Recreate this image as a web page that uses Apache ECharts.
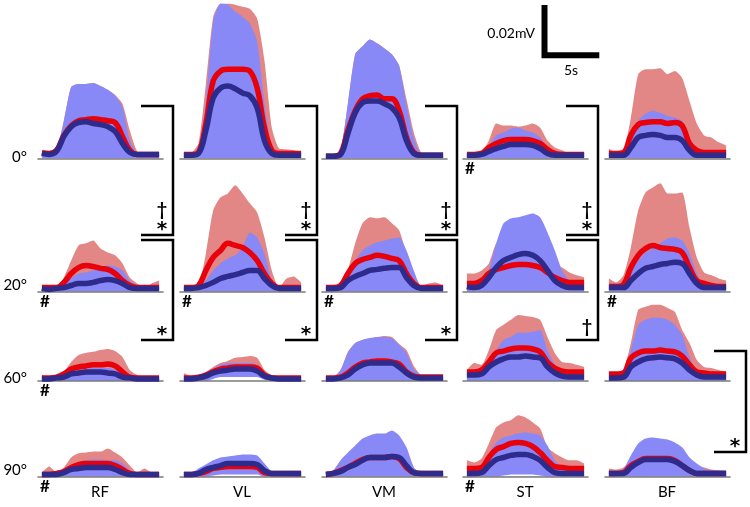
<!DOCTYPE html>
<html><head><meta charset="utf-8">
<script src="https://cdn.jsdelivr.net/npm/echarts@6/dist/echarts.min.js"></script>
<style>html,body{margin:0;padding:0;background:#fff}#c{width:750px;height:507px}</style>
</head><body><div id="c"></div>
<script>
// time samples (s) within each trial window
const T = [0,0.75,1.5,2.25,3,3.75,4.5,5.25,6,6.75,7.5,8.25,9,9.75,10.5,11.25,12];
const muscles = ['RF','VL','VM','ST','BF'];
const angles = ['0°','20°','60°','90°'];
// values in µV: redBand/blueBand = upper edge of shaded band, redMean/blueMean = mean envelope
// ---- 0°
const RF0_redBand  = [2.7,1.9,3.1,14.6,27.7,28.9,28.9,29.3,28.1,26.6,24.6,21.2,10.8,2.7,1.5,1.5,1.5];
const RF0_blueBand = [1.9,1.9,3.1,14.6,27.7,28.9,28.9,29.3,28.1,26.6,24.3,20,6.9,1.9,1.5,1.5,1.5];
const RF0_redMean  = [2.2,1.9,3.1,8.9,12.7,14.6,15,15.4,15,14.6,13.9,8.5,3.1,1.5,1.5,1.5,1.5];
const RF0_blueMean = [1.9,1.5,2.7,8.5,12.3,13.9,14.2,13.5,13.1,12.3,10.4,5.8,2.3,1.5,1.5,1.5,1.5];
const VL0_redBand  = [2.3,2.3,5.8,28.9,55,60,60,59.7,58.9,58.1,54.3,38,11.9,3.8,3.5,3.1,2.3];
const VL0_blueBand = [1.9,1.9,2.3,22.3,53.1,60,59.7,57,55,52.4,45.4,21.2,4.2,1.9,1.9,1.9,1.9];
const VL0_redMean  = [1.5,1.5,2.3,13.5,30,33.9,34.6,34.6,34.6,33.9,27.3,11.9,3.1,1.9,1.9,1.9,1.9];
const VL0_blueMean = [1.2,1.2,1.9,10.8,23.5,27.3,28.1,27,25.4,24.3,19.6,6.9,1.9,1.2,1.2,1.2,1.2];
const VM0_redBand  = [1.5,1.5,3.1,21.2,40.4,43.5,46.2,44.7,42.7,40.4,36,23,10,2.3,1.5,1.5,1.5];
const VM0_blueBand = [1.5,1.5,3.1,21.2,40.4,43.5,46.2,44.7,42.7,40.4,36,21,8,1.5,1.5,1.5,1.5];
const VM0_redMean  = [0.8,0.8,1.9,10.8,18.5,23.1,24.3,24.6,23.1,23.1,18.5,8.1,2.3,1.2,1.2,1.2,1.2];
const VM0_blueMean = [0.8,0.8,1.5,9.6,17.7,21.6,22.3,22.3,21.2,19.6,15.8,6.9,1.9,1.2,1.2,1.2,1.2];
const ST0_redBand  = [1.9,1.9,2.3,6.9,13.5,12.7,12.7,12.3,12.7,13.5,11.9,6.9,4.2,3.1,1.9,1.9,1.9];
const ST0_blueBand = [1.5,1.5,1.9,5,8.9,10,11.5,11.9,10.8,10,8.1,4.2,2.3,1.9,1.9,1.9,1.9];
const ST0_redMean  = [1.5,1.5,1.9,4.2,5.8,6.9,7.3,7.3,7.3,6.9,5.8,3.5,1.9,1.5,1.5,1.5,1.5];
const ST0_blueMean = [1.2,1.2,1.5,2.7,3.8,4.6,5.4,5.4,5.4,5,3.8,1.9,1.2,1.2,1.2,1.2,1.2];
const BF0_redBand  = [3.8,2.3,3.1,15.8,32.7,34.6,34.6,35,32.7,33.9,31.2,22.3,13.5,8.9,8.1,6.2,5];
const BF0_blueBand = [1.9,1.9,2.3,9.6,14.6,17.3,18.5,17.7,16.5,15.8,14.6,7.7,3.1,2.3,2.3,2.3,2.3];
const BF0_redMean  = [1.9,1.9,2.3,8.9,13.1,13.9,14.2,14.2,13.5,13.9,12.7,5.8,3.1,2.3,2.3,2.3,2.3];
const BF0_blueMean = [1.2,1.2,1.2,4.2,8.1,8.9,9.2,8.9,8.1,8.1,6.9,3.1,1.2,1.2,1.2,1.2,1.2];
// ---- 20°
const RF20_redBand  = [2.3,1.5,1.2,5.4,11.9,17.7,18.5,19.6,16.5,15,13.9,10.8,5.4,3.1,1.5,3.1,4.2];
const RF20_blueBand = [1.5,1.2,1.2,3.1,5,6.9,7.3,8.1,9.2,10,9.6,8.1,4.2,2.3,1.5,1.5,1.5];
const RF20_redMean  = [1.5,1.5,1.5,3.5,6.9,9.2,10,9.6,8.9,8.5,6.9,4.2,2.3,1.5,1.5,1.5,1.5];
const RF20_blueMean = [1.2,0.8,1.2,1.5,2.3,3.1,3.1,3.5,4.2,4.6,4.2,3.1,1.5,1.2,1.2,1.2,1.2];
const VL20_redBand  = [1.5,1.5,1.9,14.6,31.2,36.2,37.7,40.8,37.7,33.9,30.4,20.8,8.1,1.5,5,5.8,3.5];
const VL20_blueBand = [1.2,1.2,1.5,4.2,8.1,10.8,12.7,13.9,16.9,22.7,20.8,14.6,4.2,1.5,1.5,1.5,1.5];
const VL20_redMean  = [1.5,1.5,2.3,8.1,13.1,15.8,18.5,17.7,16.9,15,11.9,6.9,3.1,1.5,1.5,1.5,1.5];
const VL20_blueMean = [1.2,1.2,1.5,2.3,3.5,5,5.8,6.5,7.3,8.1,8.1,5,2.3,1.2,1.2,1.2,1.2];
const VM20_redBand  = [1.5,1.5,2.3,8.1,18.5,26.2,28.5,28.1,28.5,26.2,23.5,14.6,6.9,2.3,3.1,3.5,2.3];
const VM20_blueBand = [1.2,1.2,1.5,5.4,11.9,15.8,17.7,18.9,19.6,20.4,20.8,15.8,8.1,1.5,1.2,1.2,1.2];
const VM20_redMean  = [1.5,1.5,2.3,6.9,10.8,12.3,13.1,13.9,13.5,12.7,11.9,6.9,3.1,1.5,1.5,1.5,1.5];
const VM20_blueMean = [1.2,1.2,1.5,4.2,5.8,6.9,8.1,8.5,8.9,9.2,9.2,5.4,2.3,1.2,1.2,1.2,1.2];
const ST20_redBand  = [6.9,6.9,8.1,10.8,18.5,19.6,20.4,20.4,20.4,20.4,16.9,13.1,10.8,9.2,7.3,6.2,5.4];
const ST20_blueBand = [3.1,2.7,3.5,8.1,18.5,26.2,28.1,28.5,29.3,30,28.5,22.7,15.8,8.1,4.2,3.5,3.1];
const ST20_redMean  = [3.1,3.1,4.2,6.9,8.5,9.2,10,10.4,10.4,10,9.2,7.3,5.4,4.2,3.5,3.5,3.5];
const ST20_blueMean = [1.9,1.5,2.3,5.4,9.2,11.9,13.1,14.2,14.6,13.9,11.9,8.1,4.2,2.3,1.5,1.5,1.5];
const BF20_redBand  = [5,3.5,6.2,16.9,31.2,38.1,40,41.6,37.7,37.7,38.1,24.6,13.1,7.3,6.2,5,4.2];
const BF20_blueBand = [1.5,1.5,3.1,8.1,11.9,15,16.5,18.5,20.4,20.8,19.6,14.6,6.9,2.3,1.5,1.5,1.5];
const BF20_redMean  = [1.9,1.9,2.7,9.2,13.9,16.5,17.7,16.9,16.5,16.2,15,9.2,4.2,3.1,2.3,1.9,1.9];
const BF20_blueMean = [1.5,1.5,1.5,4.2,6.9,8.9,9.6,10.4,10.8,11.2,10.8,6.9,3.1,1.5,1.5,1.5,1.5];
// ---- 60°
const RF60_redBand  = [1.5,1.5,2.3,3.5,7.3,10,10.8,11.2,11.9,12.3,11.5,9.2,4.2,2.3,1.5,1.5,1.5];
const RF60_blueBand = [2.3,1.5,1.5,2.3,3.5,3.8,4.6,5,5,5,4.2,3.1,1.5,1.5,1.5,1.5,1.5];
const RF60_redMean  = [1.2,1.2,1.5,2.7,4.6,5.4,5.8,6.2,6.2,6.5,5.8,3.5,1.5,1.2,1.2,1.2,1.2];
const RF60_blueMean = [0.8,0.8,1.2,1.5,2.7,3.1,3.5,3.5,3.5,3.1,2.7,1.5,1.2,0.8,0.8,0.8,0.8];
const VL60_redBand  = [3.1,1.9,2.3,3.5,5.4,6.9,7.7,8.9,9.2,9.6,8.9,4.2,2.3,1.9,1.9,1.9,1.9];
const VL60_blueBand = [1.5,1.5,1.9,3.1,4.6,6.2,6.9,6.9,6.9,6.9,6.2,3.1,1.5,1.5,1.5,1.5,1.5];
const VL60_redMean  = [1.2,1.2,1.5,2.3,3.5,4.6,5,5.4,5.4,5.4,5,2.3,1.2,1.2,1.2,1.2,1.2];
const VL60_blueMean = [0.8,0.8,1.2,1.9,3.1,3.8,4.2,4.6,4.6,4.6,3.8,1.9,1.2,0.8,0.8,0.8,0.8];
const VL60_lower    = [0,0,0,0,0.8,1.5,1.5,1.5,1.5,1.5,1.5,0.4,0,0,0,0,0];
const VM60_redBand  = [1.2,1.5,4.2,11.2,14.6,15.8,16.2,16.9,17.3,16.9,14.2,11.9,5.8,2.3,1.5,1.5,1.5];
const VM60_blueBand = [1.9,1.2,4.2,10.8,14.6,15.8,16.5,16.9,16.9,16.5,13.9,10.8,4.6,2.3,1.5,1.5,1.5];
const VM60_redMean  = [1.2,1.2,1.5,3.1,5.4,6.9,7.3,7.7,7.7,7.3,6.5,3.5,1.9,1.5,1.5,1.5,1.5];
const VM60_blueMean = [0.8,0.8,1.2,2.3,4.6,6.2,6.9,6.9,6.9,6.9,5.4,3.1,1.5,1.2,1.2,1.2,1.2];
const ST60_redBand  = [4.2,6.9,6.2,11.9,19.6,21.6,23.5,25.4,25,24.6,23.5,16.9,10.8,7.3,6.9,6.2,5.4];
const ST60_blueBand = [2.3,2.7,3.5,7.3,11.9,15.8,16.9,18.5,18.5,18.9,19.6,11.9,6.2,3.5,3.1,3.1,3.1];
const ST60_redMean  = [3.5,3.5,4.2,7.3,10.8,11.5,12.3,12.7,12.7,12.3,11.2,7.3,5,3.8,3.5,3.5,3.5];
const ST60_blueMean = [2.3,2.3,2.7,5.4,7.3,8.5,9.2,9.2,9.6,9.2,8.9,5.4,3.1,1.9,1.5,1.5,1.5];
const BF60_redBand  = [3.5,3.1,4.2,14.6,27.3,28.5,29.3,29.3,28.1,26.6,19.6,14.6,8.1,5.4,5,4.2,3.5];
const BF60_blueBand = [1.5,1.5,3.1,11.9,21.6,23.5,24.3,24.3,23.5,21.6,17.7,9.2,3.5,1.9,1.9,1.9,1.9];
const BF60_redMean  = [2.7,2.7,3.1,8.9,10.8,11.5,11.5,11.9,11.5,11.2,9.6,6.2,3.5,3.1,2.7,2.7,2.7];
const BF60_blueMean = [1.2,1.2,1.5,5.4,7.3,8.5,8.9,9.2,8.9,8.5,6.9,4.2,2.3,1.5,1.5,1.5,1.5];
// ---- 90°
const RF90_redBand  = [1.5,3.8,1.5,3.5,7.3,8.9,9.2,9.6,9.6,10.8,9.2,7.3,4.2,1.5,3.1,1.5,1.2];
const RF90_blueBand = [1.2,1.2,1.2,2.7,4.2,5.4,6.2,6.5,6.5,6.2,6.2,5,2.3,1.2,1.2,1.2,1.2];
const RF90_redMean  = [0.8,0.8,1.2,1.9,3.5,4.6,5,5,5,5,4.2,2.7,1.2,0.8,0.8,0.8,0.8];
const RF90_blueMean = [0.8,0.8,0.8,1.5,2.7,3.1,3.5,3.5,3.5,3.5,2.7,1.5,0.8,0.8,0.8,0.8,0.8];
const VL90_redBand  = [1.5,1.5,2.7,4.2,5.8,6.9,7.3,7.7,8.1,8.1,7.7,4.6,1.9,1.5,1.5,1.5,1.5];
const VL90_blueBand = [1.5,1.5,3.1,4.6,6.2,7.3,7.7,8.1,8.5,8.5,8.1,5,1.9,1.5,1.5,1.5,1.5];
const VL90_redMean  = [0.8,0.8,1.2,1.9,3.1,3.5,3.8,3.8,3.8,3.8,3.5,1.5,1.2,1.2,1.2,1.2,1.2];
const VL90_blueMean = [0.8,0.8,1.2,2.7,3.5,4.2,5,5,5,5,4.6,2.3,1.2,1.2,1.2,1.2,1.2];
const VL90_lower    = [0,0,0,0,0.4,0.8,0.8,0.8,0.8,0.8,0.8,0,0,0,0,0,0];
const VM90_redBand  = [1.9,2.3,5.8,8.5,11.2,13.9,15,15.8,15.8,16.9,15,10.8,3.5,1.5,1.5,1.5,1.5];
const VM90_blueBand = [1.5,2.3,6.2,9.2,11.9,14.6,15.8,16.5,16.5,17.7,15.8,11.2,3.5,1.2,1.2,1.2,1.2];
const VM90_redMean  = [0.8,1.2,2.3,3.5,5,6.5,7.3,7.3,7.3,7.7,6.9,3.5,1.5,1.2,1.2,1.2,1.2];
const VM90_blueMean = [0.8,1.2,1.9,3.5,4.6,6.2,7.3,7.3,7.3,7.7,7.3,4.2,1.5,1.2,1.2,1.2,1.2];
const ST90_redBand  = [6.2,5.4,6.9,12.7,18.9,20.8,21.6,23.5,22.7,20.8,18.5,11.2,8.9,7.3,6.2,6.2,5];
const ST90_blueBand = [2.3,2.3,3.5,8.9,13.1,15,15.8,16.5,16.9,16.5,15.8,11.9,6.2,3.5,2.3,2.3,2.3];
const ST90_redMean  = [3.1,3.1,3.5,7.3,10.4,11.5,12.7,13.1,12.7,11.5,9.2,6.2,3.8,3.5,3.1,3.1,3.1];
const ST90_blueMean = [1.2,1.2,1.5,4.2,6.5,7.3,8.1,8.5,8.5,7.7,6.2,3.5,1.5,1.2,1.2,1.2,1.2];
const ST90_lower    = [0,0,0,0,0,0.4,0.8,0.8,0.8,0.8,0.4,0,0,0,0,0,0];
const BF90_redBand  = [3.1,2.7,3.5,6.2,10,12.3,13.1,13.1,12.7,11.9,10.8,6.9,4.2,3.5,2.7,2.3,1.9];
const BF90_blueBand = [2.3,1.9,3.1,8.1,12.7,14.6,15,14.6,14.2,13.1,11.2,7.3,5,3.1,2.3,2.3,2.3];
const BF90_redMean  = [1.2,1.2,1.5,4.2,5.8,6.9,6.9,6.9,6.9,6.2,4.2,2.3,1.2,1.2,1.2,1.2,1.2];
const BF90_blueMean = [1.2,1.2,1.2,3.5,5.4,6.5,6.5,6.5,6.5,5.8,4.2,2.3,1.2,1.2,1.2,1.2,1.2];
// significance brackets: [muscle, fromAngle, toAngle, marks]
const brackets = [
  [0,0,1,['†','*']],[0,1,2,['*']],
  [1,0,1,['†','*']],[1,1,2,['*']],
  [2,0,1,['†','*']],[2,1,2,['*']],
  [3,0,1,['†','*']],[3,1,2,['†']],
  [4,2,3,['*']]
];
// '#' markers: [muscle, angle]
const hashMarks = [[0,1],[1,1],[2,1],[3,0],[4,1],[0,2],[0,3],[3,3]];
const scaleBarMV = '0.02mV', scaleBarS = '5s';

const panels = [
 [0,0,RF0_redBand,RF0_blueBand,RF0_redMean,RF0_blueMean,null],
 [1,0,VL0_redBand,VL0_blueBand,VL0_redMean,VL0_blueMean,null],
 [2,0,VM0_redBand,VM0_blueBand,VM0_redMean,VM0_blueMean,null],
 [3,0,ST0_redBand,ST0_blueBand,ST0_redMean,ST0_blueMean,null],
 [4,0,BF0_redBand,BF0_blueBand,BF0_redMean,BF0_blueMean,null],
 [0,1,RF20_redBand,RF20_blueBand,RF20_redMean,RF20_blueMean,null],
 [1,1,VL20_redBand,VL20_blueBand,VL20_redMean,VL20_blueMean,null],
 [2,1,VM20_redBand,VM20_blueBand,VM20_redMean,VM20_blueMean,null],
 [3,1,ST20_redBand,ST20_blueBand,ST20_redMean,ST20_blueMean,null],
 [4,1,BF20_redBand,BF20_blueBand,BF20_redMean,BF20_blueMean,null],
 [0,2,RF60_redBand,RF60_blueBand,RF60_redMean,RF60_blueMean,null],
 [1,2,VL60_redBand,VL60_blueBand,VL60_redMean,VL60_blueMean,VL60_lower],
 [2,2,VM60_redBand,VM60_blueBand,VM60_redMean,VM60_blueMean,null],
 [3,2,ST60_redBand,ST60_blueBand,ST60_redMean,ST60_blueMean,null],
 [4,2,BF60_redBand,BF60_blueBand,BF60_redMean,BF60_blueMean,null],
 [0,3,RF90_redBand,RF90_blueBand,RF90_redMean,RF90_blueMean,null],
 [1,3,VL90_redBand,VL90_blueBand,VL90_redMean,VL90_blueMean,VL90_lower],
 [2,3,VM90_redBand,VM90_blueBand,VM90_redMean,VM90_blueMean,null],
 [3,3,ST90_redBand,ST90_blueBand,ST90_redMean,ST90_blueMean,ST90_lower],
 [4,3,BF90_redBand,BF90_blueBand,BF90_redMean,BF90_blueMean,null]
];

// layout
const colLeft = [38,180,322,463,605];
const rowBase = [158.3,291.5,381,476.5];
const PW = 125, PH = 160, YMAX = 61.5;
const brX = [173,317,457,598,746];
const brTop = [106,240,351], brBot = [235,340,452];
const C = {redBand:'#e28686', blueBand:'#8888f6', red:'#e8000b', navy:'#2d2b8c', axis:'#7c7c7c'};

const grids=[], xAxes=[], yAxes=[], series=[];
panels.forEach((p,i)=>{
  const [m,a,ru,bu,rm,bm,lo] = p;
  grids.push({left:colLeft[m], top:rowBase[a]-PH, width:PW, height:PH});
  xAxes.push({gridIndex:i,type:'value',min:-0.4,max:12.4,z:2,
    axisLine:{show:true,lineStyle:{color:C.axis,width:1.6}},axisTick:{show:false},axisLabel:{show:false},splitLine:{show:false}});
  yAxes.push({gridIndex:i,type:'value',min:0,max:YMAX,show:false});
  const base = {type:'line',xAxisIndex:i,yAxisIndex:i,symbol:'none',silent:true,clip:false,animation:false};
  const area = (arr,color)=>series.push(Object.assign({},base,{z:1,data:T.map((t,k)=>[t,arr[k]]),
    lineStyle:{width:0,opacity:0},areaStyle:{color:color,opacity:1},smooth:0.2}));
  area(ru,C.redBand);
  area(bu,C.blueBand);
  if (lo) area(lo,'#ffffff');   // lower edge of the bands (white gap above baseline)
  series.push(Object.assign({},base,{data:T.map((t,k)=>[t,rm[k]]),lineStyle:{color:C.red,width:5.5},smooth:0.4,z:3}));
  series.push(Object.assign({},base,{data:T.map((t,k)=>[t,bm[k]]),lineStyle:{color:C.navy,width:5.5},smooth:0.4,z:4}));
});

const graphic = [];
const txt = (s,x,y,font,align)=>graphic.push({type:'text',x:x,y:y,z:10,style:{text:s,font:font,fill:'#000',
  textAlign:align||'center',textVerticalAlign:'middle',align:align||'center',verticalAlign:'middle'}});
const DAG = 'bold 18px Lato', AST = 'bold 20px DejaVu Sans';
// row & column labels
angles.forEach((s,a)=>txt(s,27,[157,285,378,470][a],'15px Lato','right'));
muscles.forEach((s,m)=>txt(s,colLeft[m]+62,492,'15px Lato','center'));
// brackets
brackets.forEach(([m,a1,a2,marks])=>{
  const x=brX[m], y1=brTop[a1], y2=brBot[a1];
  graphic.push({type:'polyline',z:10,shape:{points:[[x-32,y1],[x,y1],[x,y2],[x-32,y2]]},style:{stroke:'#000',lineWidth:2.5,fill:null}});
  const cx = x-11;
  if (marks.length===2){ txt(marks[0],cx,y2-25,DAG); txt(marks[1],cx,y2-5,AST); }
  else { txt(marks[0],cx,y2-(marks[0]==='*'?5:13),marks[0]==='*'?AST:DAG); }
});
hashMarks.forEach(([m,a])=>txt('#',colLeft[m]+7,rowBase[a]+10,'bold 17px Lato','center'));
// scale bar
graphic.push({type:'polyline',z:10,shape:{points:[[544.5,5],[544.5,55.3],[599.3,55.3]]},style:{stroke:'#000',lineWidth:6,fill:null,lineJoin:'miter',lineCap:'butt'}});
txt(scaleBarMV,535,33,'14px Lato','right');
txt(scaleBarS,571,70,'14px Lato','center');

const chart = echarts.init(document.getElementById('c'),null,{renderer:'canvas'});
chart.setOption({animation:false,grid:grids,xAxis:xAxes,yAxis:yAxes,series:series,graphic:graphic});
</script></body></html>
